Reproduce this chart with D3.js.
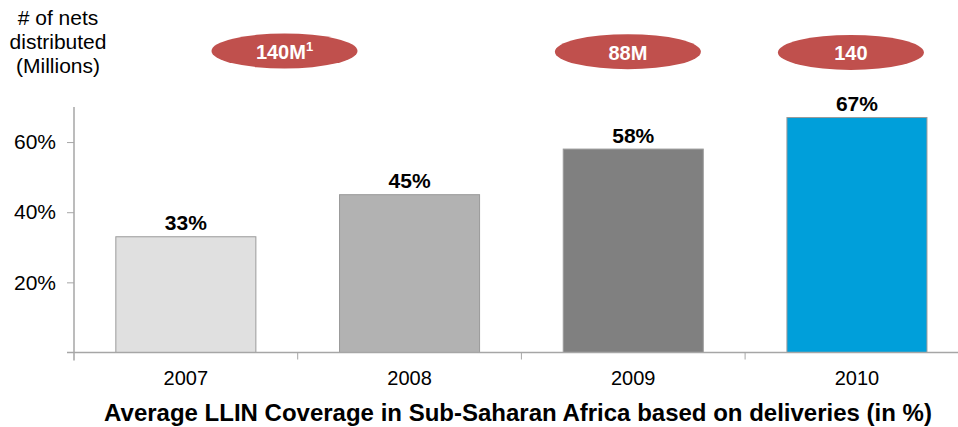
<!DOCTYPE html>
<html>
<head>
<meta charset="utf-8">
<script src="https://cdn.jsdelivr.net/npm/d3@7"></script>
<style>
  html, body { margin: 0; padding: 0; background: #fff; }
  svg { display: block; font-family: "Liberation Sans", Arial, sans-serif; }
</style>
</head>
<body>
<svg id="chart" width="958" height="427"></svg>
<script>
// LLIN coverage by year
const years = ["2007", "2008", "2009", "2010"];
const coverage = [33, 45, 58, 67];
const barColors = ["#e0e0e0", "#b2b2b2", "#808080", "#009fda"];
const yTicks = [20, 40, 60];

// nets distributed (millions), each callout anchored to a year band
const netsLabels = ["140M", "88M", "140"];
const netsNotes = ["1", "", ""];
const netsAnchorYears = ["2008", "2009", "2010"];
const netsAnchorPos = [-0.059, 0.476, 0.473]; // fraction of a band step from the band's left boundary

const axisTitle = "Average LLIN Coverage in Sub-Saharan Africa based on deliveries (in %)";
const sideLabel = ["# of nets", "distributed", "(Millions)"];

const svg = d3.select("#chart");
const axisColor = "#a6a6a6";

const x = d3.scaleBand()
  .domain(years)
  .range([74, 968.8])
  .paddingInner(0.374)
  .paddingOuter(0.187);

const y = d3.scaleLinear().domain([0, 70]).range([352.5, 107]);

// bars
svg.append("g").selectAll("rect")
  .data(years)
  .join("rect")
  .attr("x", d => x(d))
  .attr("y", (d, i) => y(coverage[i]))
  .attr("width", x.bandwidth())
  .attr("height", (d, i) => y(0) - y(coverage[i]))
  .attr("fill", (d, i) => barColors[i])
  .attr("stroke", "#9a9a9a")
  .attr("stroke-width", 1);

// value labels
svg.append("g").selectAll("text")
  .data(years)
  .join("text")
  .attr("x", d => x(d) + x.bandwidth() / 2)
  .attr("y", (d, i) => y(coverage[i]) - 6.5)
  .attr("text-anchor", "middle")
  .attr("font-size", 21)
  .attr("font-weight", "bold")
  .attr("fill", "#000")
  .text((d, i) => coverage[i] + "%");

// y axis
const yAxis = svg.append("g")
  .attr("transform", "translate(74,0)")
  .call(d3.axisLeft(y).tickValues(yTicks).tickSize(7).tickPadding(11).tickFormat(d => d + "%"));
yAxis.select(".domain").remove();
yAxis.selectAll(".tick line").attr("stroke", axisColor);
yAxis.selectAll(".tick text")
  .attr("font-size", 21)
  .attr("fill", "#000")
  .attr("font-family", "'Liberation Sans', Arial, sans-serif");
svg.append("line")
  .attr("x1", 74).attr("x2", 74)
  .attr("y1", y.range()[1]).attr("y2", y(0) + 8)
  .attr("stroke", axisColor).attr("stroke-width", 1.5);

// x axis: baseline with ticks at band boundaries
svg.append("line")
  .attr("x1", 67).attr("x2", 958)
  .attr("y1", y(0)).attr("y2", y(0))
  .attr("stroke", axisColor).attr("stroke-width", 1.5);
const step = x.step();
const boundary = d => x(d) - (step - x.bandwidth()) / 2;
svg.append("g").selectAll("line")
  .data(years.slice(1))
  .join("line")
  .attr("x1", boundary)
  .attr("x2", boundary)
  .attr("y1", y(0)).attr("y2", y(0) + 7)
  .attr("stroke", axisColor).attr("stroke-width", 1);

// year labels
svg.append("g").selectAll("text")
  .data(years)
  .join("text")
  .attr("x", d => x(d) + x.bandwidth() / 2)
  .attr("y", 385)
  .attr("text-anchor", "middle")
  .attr("font-size", 20)
  .attr("fill", "#000")
  .text(d => d);

// axis title
svg.append("text")
  .attr("x", 518)
  .attr("y", 421)
  .attr("text-anchor", "middle")
  .attr("font-size", 24)
  .attr("font-weight", "bold")
  .attr("fill", "#000")
  .text(axisTitle);

// side label
svg.append("text")
  .attr("text-anchor", "middle")
  .attr("font-size", 21)
  .attr("fill", "#000")
  .selectAll("tspan")
  .data(sideLabel)
  .join("tspan")
  .attr("x", 58)
  .attr("y", (d, i) => 25 + i * 24)
  .text(d => d);

// callouts with nets distributed
const callouts = svg.append("g").selectAll("g")
  .data(netsLabels)
  .join("g")
  .attr("transform", (d, i) => {
    const cx = boundary(netsAnchorYears[i]) + netsAnchorPos[i] * step;
    return `translate(${cx},${51 + i * 0.7})`;
  });
callouts.append("ellipse")
  .attr("rx", 73)
  .attr("ry", 17.5)
  .attr("fill", "#c0504d");
const ct = callouts.append("text")
  .attr("y", 8)
  .attr("text-anchor", "middle")
  .attr("font-size", 20)
  .attr("font-weight", "bold")
  .attr("fill", "#fff");
ct.append("tspan").text(d => d);
ct.append("tspan")
  .attr("font-size", 13)
  .attr("dy", -8)
  .text((d, i) => netsNotes[i]);
</script>
</body>
</html>
